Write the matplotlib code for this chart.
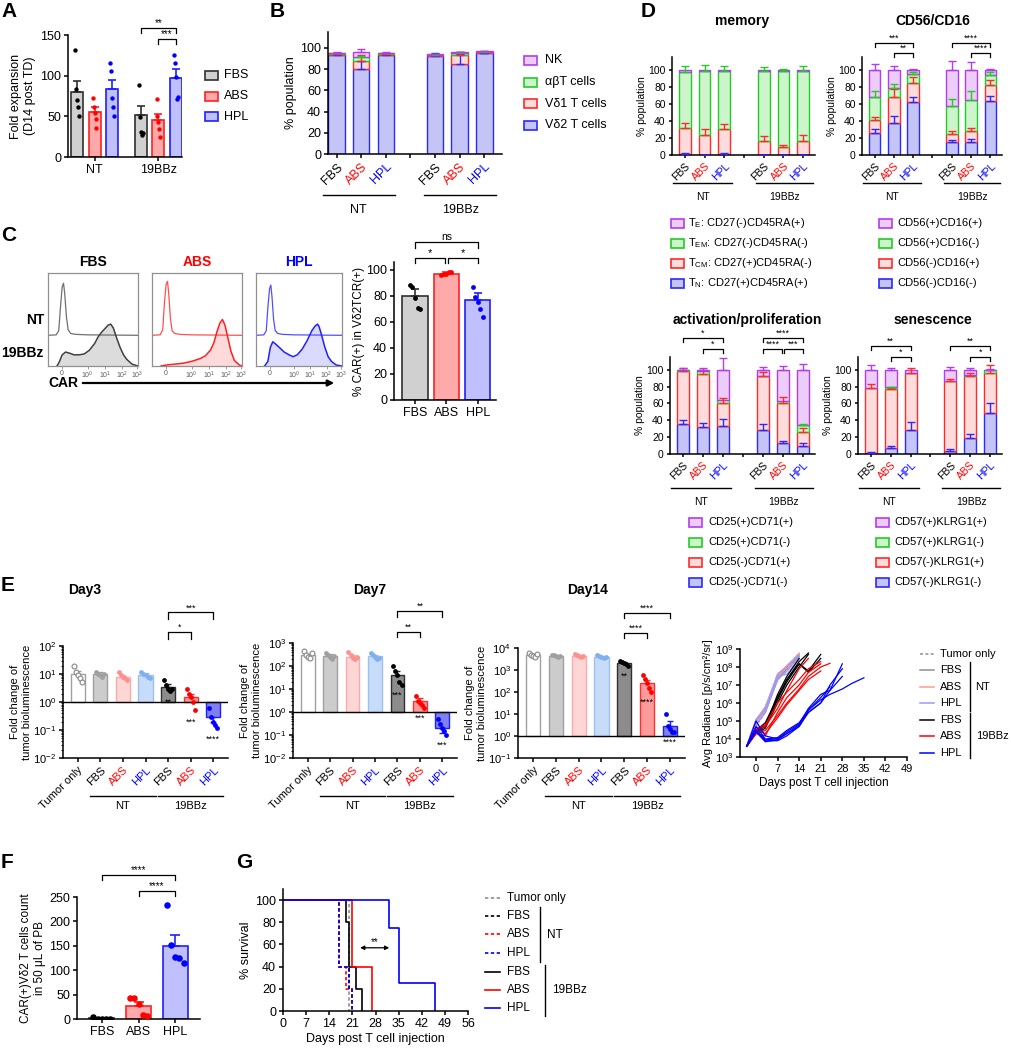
import numpy as np
import matplotlib
matplotlib.use("Agg")
import matplotlib.pyplot as plt
import matplotlib.transforms as mtrans
from matplotlib.patches import Rectangle
from matplotlib.lines import Line2D

plt.rcParams['font.family'] = ['Liberation Sans', 'DejaVu Sans']
plt.rcParams['mathtext.fontset'] = 'custom'
plt.rcParams['mathtext.rm'] = 'Liberation Sans'
plt.rcParams['mathtext.bf'] = 'Liberation Sans:bold'
plt.rcParams['axes.linewidth'] = 1.1
plt.rcParams['xtick.major.width'] = 1.1
plt.rcParams['ytick.major.width'] = 1.1
plt.rcParams['xtick.major.size'] = 3
plt.rcParams['ytick.major.size'] = 3
plt.rcParams['xtick.major.pad'] = 2
plt.rcParams['ytick.major.pad'] = 2

# ---------------- data ----------------
media = ['FBS', 'ABS', 'HPL']
groups = ['NT', '19BBz']
media_col = ['black', 'red', 'blue']

# A: fold expansion (NT FBS/ABS/HPL, 19BBz FBS/ABS/HPL)
a_mean = [80, 55, 83, 52, 45, 97]
a_sem = [13, 7, 12, 11, 8, 11]
a_pts = [[131, 84, 70, 62, 51], [73, 61, 54, 47, 36], [115, 106, 73, 62, 51],
         [88, 49, 31, 27, 30], [71, 51, 43, 35, 25], [125, 115, 98, 71, 74]]

# B: population composition
b_vd2 = [93, 80, 93, 92, 85, 95]
b_vd1 = [1, 8, 1, 1, 8, 1]
b_ab = [1, 3, 1, 0.5, 2, 0.5]
b_nk = [0.5, 5, 0.5, 0.5, 1, 0.3]
b_vd2_sem = [1, 8, 1, 3, 9, 0.5]
b_vd1_sem = [0.5, 5, 0.5, 0.5, 3, 0.5]
b_ab_sem = [0.5, 1, 0.5, 0.3, 1, 0.3]
b_nk_sem = [1, 3, 1, 0.5, 0.5, 0.3]

# C: CAR histograms (x in display units of the biexponential axis)
hist_ticks = [0, 1.5, 2.5, 3.5, 4.4]
hist_ticklabels = ['0', '10$^0$', '10$^1$', '10$^2$', '10$^3$']
nt_x = [-0.83, -0.35, -0.2, -0.1, 0.0, 0.08, 0.15, 0.25, 0.35, 0.5, 0.8, 1.5, 4.45]
nt_y = [[0, 0.005, 0.05, 0.3, 0.52, 0.56, 0.45, 0.2, 0.06, 0.02, 0.01, 0.005, 0],
        [0, 0.005, 0.06, 0.35, 0.55, 0.58, 0.45, 0.18, 0.05, 0.02, 0.01, 0.005, 0],
        [0, 0.005, 0.05, 0.3, 0.5, 0.54, 0.42, 0.17, 0.05, 0.02, 0.01, 0.005, 0]]
car_x = [[-0.3, -0.15, 0, 0.2, 0.4, 0.7, 1.0, 1.3, 1.6, 1.9, 2.1, 2.3, 2.5, 2.7, 2.85, 3.0, 3.2, 3.4, 3.6, 3.8, 4.1, 4.45],
         [-0.3, 0, 0.5, 1.0, 1.5, 2.0, 2.3, 2.6, 2.8, 3.0, 3.15, 3.3, 3.45, 3.6, 3.8, 4.0, 4.3, 4.45],
         [-0.3, -0.1, 0.05, 0.2, 0.35, 0.6, 0.9, 1.2, 1.45, 1.7, 2.0, 2.3, 2.6, 2.8, 2.95, 3.05, 3.2, 3.4, 3.6, 3.8, 4.1, 4.45]]
car_y = [[0, 0.05, 0.12, 0.15, 0.14, 0.12, 0.12, 0.13, 0.17, 0.24, 0.31, 0.36, 0.40, 0.44, 0.45, 0.41, 0.3, 0.2, 0.12, 0.07, 0.02, 0],
         [0, 0.01, 0.02, 0.03, 0.05, 0.08, 0.11, 0.17, 0.25, 0.38, 0.46, 0.5, 0.44, 0.32, 0.16, 0.06, 0.01, 0],
         [0, 0.05, 0.2, 0.26, 0.24, 0.2, 0.15, 0.12, 0.10, 0.12, 0.18, 0.27, 0.38, 0.43, 0.45, 0.42, 0.33, 0.2, 0.1, 0.05, 0.01, 0]]
c_mean = [80, 97, 77]
c_sem = [5, 1, 5]
c_pts = [[88, 87, 78, 71, 70], [96, 97, 97, 98, 98], [87, 79, 75, 70, 64]]

# D: phenotypes, layers bottom -> top
mem_tn = [1, 0, 1, 0, 0, 0]
mem_tcm = [31, 24, 29, 16, 9, 17]
mem_tem = [65, 75, 69, 82, 90, 82]
mem_te = [3, 1, 1, 2, 1, 1]
mem_sems = [[1.5, 0.3, 1, 0.3, 0.3, 0.3], [6, 7, 6, 6, 3, 6], [7, 7, 5, 5, 2, 5], [0, 0, 0, 0, 0, 0]]

cd_nn = [26, 37, 62, 15, 15, 63]
cd_np = [15, 31, 23, 10, 13, 19]
cd_pn = [27, 11, 10, 32, 37, 12]
cd_pp = [32, 21, 5, 43, 35, 6]
cd_sems = [[5, 9, 6, 3, 4, 6], [4, 9, 7, 3, 4, 6], [7, 4, 2, 9, 10, 3], [7, 4, 1, 10, 9, 1]]

act_nn = [35, 32, 33, 28, 13, 10]
act_np = [63, 63, 28, 64, 48, 16]
act_pn = [1, 3, 3, 0, 2, 8]
act_pp = [1, 2, 36, 8, 37, 66]
act_sems = [[5, 5, 9, 7, 3, 3], [4, 4, 5, 5, 6, 5], [0, 0, 0, 0, 0, 2], [2, 2, 14, 3, 4, 7]]

sen_nn = [1, 7, 29, 4, 19, 49]
sen_np = [77, 70, 67, 82, 73, 47]
sen_pn = [0, 2, 0, 1, 2, 3]
sen_pp = [22, 21, 4, 13, 6, 1]
sen_sems = [[1, 2, 9, 2, 5, 11], [5, 1, 6, 3, 4, 10], [0, 1, 0, 0, 0, 0], [5, 2, 0, 3, 2, 1]]

# E: fold change of tumor bioluminescence
e_labels = ['Tumor only', 'FBS', 'ABS', 'HPL', 'FBS', 'ABS', 'HPL']
e_lab_col = ['black', 'black', 'red', 'blue', 'black', 'red', 'blue']
d3_mean = [10, 10, 8, 9, 3.5, 1.5, 0.3]
d3_sem = [3, 1.5, 1.5, 1.5, 1, 0.5, 0.1]
d3_pts = [[20, 12, 9, 7, 5], [12, 10, 9, 8, 10], [12, 9, 8, 7, 6], [12, 10, 9, 8, 7],
          [6, 4, 3, 2.5, 3], [3, 2, 1.5, 1, 0.5], [0.6, 0.3, 0.2, 0.15, 0.12]]
d3_stars = ['', '', '', '', '**', '***', '****']
d7_mean = [300, 280, 250, 270, 40, 3, 0.2]
d7_sem = [40, 40, 40, 40, 20, 1, 0.08]
d7_pts = [[450, 300, 250, 220, 350], [350, 300, 250, 200, 280], [400, 300, 230, 200, 250],
          [350, 300, 250, 200, 220], [100, 60, 40, 20, 15], [5, 3, 2.5, 2, 1.5],
          [0.5, 0.3, 0.2, 0.15, 0.1]]
d7_stars = ['', '', '', '', '***', '***', '***']
d14_mean = [5000, 4500, 4500, 4000, 2000, 250, 3]
d14_sem = [500, 400, 500, 500, 300, 100, 2]
d14_pts = [[6000, 5000, 4500, 4000, 5500], [5000, 4800, 4500, 4000, 4300],
           [5500, 5000, 4500, 4000, 4200], [5000, 4500, 4000, 3500, 3800],
           [2500, 2200, 2000, 1800, 1500], [600, 400, 250, 150, 100], [10, 3, 2, 1.5, 1.5]]
d14_stars = ['', '', '', '', '**', '****', '****']

# E: radiance per mouse (values follow rad_days until the mouse left the study)
rad_days = [-3, 0, 3, 7, 10, 14, 17, 21, 24, 28, 31, 35]
rad_tumor = [[4e3, 1e5, 4e5, 3e7, 8e7, 5e8], [4e3, 5e4, 3e5, 2e7, 6e7, 4e8], [4e3, 8e4, 5e5, 4e7, 1e8, 6e8]]
rad_fbs_nt = [[4e3, 9e4, 5e5, 3e7, 1.2e8, 5e8], [4e3, 1.1e5, 6e5, 2.5e7, 1e8, 3e8], [4e3, 6e4, 3e5, 2e7, 8e7, 4e8]]
rad_abs_nt = [[4e3, 1.2e5, 6e5, 4e7, 1.2e8, 5e8], [4e3, 7e4, 4e5, 3e7, 9e7, 3e8], [4e3, 1e5, 5e5, 3.5e7, 1e8, 6e8]]
rad_hpl_nt = [[4e3, 1e5, 5e5, 3e7, 4e7, 3e8], [4e3, 6e4, 3e5, 2e7, 6e7, 4e8], [4e3, 1.2e5, 4e5, 4e7, 1e8, 5e8]]
rad_fbs_car = [[4e3, 3e4, 6e4, 2e6, 2e7, 2e8, 6e8], [4e3, 2e4, 4e4, 1e6, 1e7, 1e8, 5e8],
               [4e3, 3e4, 5e4, 1.5e6, 1.5e7, 1.5e8, 6e7, 5e8], [4e3, 2.5e4, 5e4, 3e6, 3e7, 3e8],
               [4e3, 3e4, 8e4, 2e6, 2e7, 1.5e8, 5e7, 3e8]]
rad_abs_car = [[4e3, 3e4, 5e4, 5e5, 5e6, 8e7, 3e8], [4e3, 2e4, 3e4, 2e5, 1e6, 6e6, 3e7, 1e8, 1.6e8],
               [4e3, 3e4, 2e4, 1.5e5, 8e5, 5e6, 2e7, 6e7], [4e3, 4e4, 6e4, 1e6, 4e6, 2e7, 8e7, 2e8],
               [4e3, 2e4, 1.5e4, 3e5, 2e6, 1e7, 5e7, 1.5e8]]
rad_hpl_car = [[4e3, 1e5, 1.5e4, 1e4, 2e4, 5e4, 3e5, 1e6, 5e6, 1.5e8],
               [4e3, 3e4, 8e3, 8e3, 1.5e4, 5e4, 4e5, 1.5e6, 3e6, 6e6, 1.2e7, 2.5e7],
               [4e3, 2.5e4, 7e3, 9e3, 2e4, 6e4, 3e5, 1e6, 1e7, 8e7],
               [4e3, 5e4, 1e4, 1.2e4, 3e4, 8e4, 4e5, 2e6, 8e6],
               [4e3, 3e4, 9e3, 1e4, 2.5e4, 7e4, 5e5, 3e6, 5e6, 3e7]]

# F: CAR+ Vd2 T cells in blood
f_mean = [2, 26, 150]
f_sem = [1, 8, 22]
f_pts = [[5, 1, 1, 1, 1], [43, 43, 31, 8, 7], [234, 152, 127, 125, 115]]

# G: survival (event days, % survival)
surv_t = {'tumor': [0, 20], 'fbs_nt': [0, 17, 20, 21], 'abs_nt': [0, 17, 19, 21], 'hpl_nt': [0, 17, 20, 21],
          'fbs_car': [0, 19, 20, 22, 24], 'abs_car': [0, 21, 27], 'hpl_car': [0, 32, 35, 46]}
surv_s = {'tumor': [100, 0], 'fbs_nt': [100, 40, 20, 0], 'abs_nt': [100, 40, 20, 0], 'hpl_nt': [100, 40, 20, 0],
          'fbs_car': [100, 80, 40, 20, 0], 'abs_car': [100, 40, 0], 'hpl_car': [100, 75, 25, 0]}

# ---------------- styles ----------------
W, H = 1011, 1050
fig = plt.figure(figsize=(W / 100, H / 100), dpi=100)

bar_face = ['#d0d0d0', '#ffaaaa', '#c0c0ff']
bar_edge = ['#303030', '#ff2020', '#2020ff']
lay_face = ['#c4c4f6', '#ffdcdc', '#ccf5cc', '#ecccf8']
lay_edge = ['#2a2aff', '#ff2a2a', '#22cc22', '#b43cf0']
e_face = ['white', '#cccccc', '#ffd6d6', '#c6dcf8', '#8c8c8c', '#ff9a9a', '#8080f0']
e_edge = ['#a0a0a0', '#a0a0a0', '#ffaaaa', '#9ec0f0', '#303030', '#ff3030', '#2020ff']
e_dot = ['#909090', '#a0a0a0', '#ff9090', '#7fb0f0', '#000000', '#ff0000', '#0000ff']
jit = [-0.18, -0.09, 0.0, 0.09, 0.18]


def add_ax(l, t, r, b):
    ax = fig.add_axes([l / W, 1 - b / H, (r - l) / W, (b - t) / H])
    ax.spines['top'].set_visible(False)
    ax.spines['right'].set_visible(False)
    return ax


def ftext(x, y, s, **kw):
    fig.text(x / W, 1 - y / H, s, **kw)


def fline(x0, y0, x1, y1, **kw):
    fig.add_artist(Line2D([x0 / W, x1 / W], [1 - y0 / H, 1 - y1 / H], transform=fig.transFigure, **kw))


def fpatch(x, y, fc, ec, w=13, h=9):
    fig.add_artist(Rectangle((x / W, 1 - (y + h / 2) / H), w / W, h / H, transform=fig.transFigure,
                             facecolor=fc, edgecolor=ec, lw=1.2))


def group_lines(ax, spans, labels, dy_line, dy_text, fs):
    h = ax.get_position().height * H
    tr = mtrans.blended_transform_factory(ax.transData, ax.transAxes)
    for (x0, x1), lab in zip(spans, labels):
        ax.plot([x0, x1], [-dy_line / h] * 2, color='k', lw=1.0, transform=tr, clip_on=False)
        ax.text((x0 + x1) / 2, -dy_text / h, lab, transform=tr, ha='center', va='center', fontsize=fs)


def sig(ax, x0, x1, y, ylo, txt, fs=7):
    ax.plot([x0, x0, x1, x1], [ylo, y, y, ylo], color='k', lw=0.9, clip_on=False)
    ax.text((x0 + x1) / 2, y, txt, ha='center', va='bottom', fontsize=fs, clip_on=False)


def rot_labels(ax, ticks, labels, colors, fs):
    ax.set_xticks(ticks)
    ax.set_xticklabels(labels, rotation=45, ha='right', va='top', rotation_mode='anchor', fontsize=fs)
    for t, c in zip(ax.get_xticklabels(), colors):
        t.set_color(c)


def stacked(ax, layers, sems, pos, width):
    bottom = np.zeros(len(pos))
    for vals, se, fc, ec in zip(layers, sems, lay_face, lay_edge):
        vals = np.array(vals, float)
        ax.bar(pos, vals, width, bottom=bottom, color=fc, edgecolor=ec, lw=1.0, zorder=2)
        top = bottom + vals
        se = np.array(se, float)
        m = se > 0
        ax.errorbar(np.array(pos)[m], top[m], yerr=[np.zeros(m.sum()), se[m]], fmt='none',
                    ecolor=ec, elinewidth=1.0, capsize=3, capthick=1.0, zorder=3)
        bottom = top


cat_pos = [0, 1, 2, 4, 5, 6]
cat_labels = ['FBS', 'ABS', 'HPL', '', 'FBS', 'ABS', 'HPL']
cat_cols = ['black', 'red', 'blue', 'black', 'black', 'red', 'blue']

# ---------------- panel labels ----------------
for lab, x, y in [('A', 1, 2), ('B', 270, 2), ('C', 1, 226), ('D', 641, 2), ('E', 1, 576), ('F', 1, 853), ('G', 236, 853)]:
    ftext(x, y, lab, fontsize=15, fontweight='bold', va='top', ha='left')

# ---------------- A ----------------
ax = add_ax(68, 35, 182, 157)
a_pos = [0, 1, 2, 3.65, 4.65, 5.65]
for i, p in enumerate(a_pos):
    k = i % 3
    ax.bar(p, a_mean[i], 0.68, color=bar_face[k], edgecolor=bar_edge[k], lw=1.2, zorder=2)
    ax.errorbar(p, a_mean[i], yerr=[[0], [a_sem[i]]], fmt='none', ecolor=bar_edge[k], elinewidth=1.2,
                capsize=3, capthick=1.2, zorder=3)
    ax.scatter(p + np.array(jit) * 0.6, a_pts[i], s=10, color=media_col[k], zorder=4, lw=0)
ax.set_ylim(0, 150)
ax.set_xlim(-0.52, 6.0)
ax.set_yticks([0, 50, 100, 150])
ax.set_xticks([1, 4.65])
ax.set_xticklabels(groups, fontsize=9)
ax.tick_params(labelsize=9)
ax.set_ylabel('Fold expansion\n(D14 post TD)', fontsize=9, labelpad=3)
sig(ax, 3.65, 5.65, 158, 152, '**')
sig(ax, 4.65, 5.65, 145, 139, '***')
for k, y in enumerate([75, 96, 117]):
    fpatch(205, y, bar_face[k], bar_edge[k])
    ftext(224, y, media[k], fontsize=9, va='center')

# ---------------- B ----------------
ax = add_ax(328, 32, 502, 154)
stacked(ax, [b_vd2, b_vd1, b_ab, b_nk], [b_vd2_sem, b_vd1_sem, b_ab_sem, b_nk_sem], cat_pos, 0.67)
ax.set_ylim(0, 115)
ax.set_xlim(-0.35, 6.72)
ax.set_yticks(range(0, 101, 20))
ax.tick_params(labelsize=9)
rot_labels(ax, range(7), cat_labels, cat_cols, 9)
ax.set_ylabel('% population', fontsize=9, labelpad=2)
group_lines(ax, [(-0.56, 2.36), (3.56, 6.48)], groups, 41, 56, 9)
b_leg = ['NK', 'αβT cells', 'Vδ1 T cells', 'Vδ2 T cells']
for k, y in enumerate([60, 82, 104, 125]):
    fpatch(524, y, lay_face[3 - k], lay_edge[3 - k])
    ftext(545, y, b_leg[k], fontsize=9, va='center')

# ---------------- C histograms ----------------
h_line = ['#707070', '#ff5050', '#5050ff']
h_line2 = ['#404040', '#ff2020', '#2020ff']
h_fill = ['#dcdcdc', '#ffdada', '#dadaff']
for k, (l, r) in enumerate([(48, 138), (152, 242), (256, 342)]):
    ax = fig.add_axes([l / W, 1 - 366 / H, (r - l) / W, 93 / H])
    for s in ax.spines.values():
        s.set_color('#909090')
        s.set_linewidth(0.9)
    ax.set_xlim(-0.83, 4.45)
    ax.set_ylim(0, 1)
    ax.plot(nt_x, np.array(nt_y[k]) + 0.33, color=h_line[k], lw=0.9)
    ax.fill_between(car_x[k], car_y[k], color=h_fill[k], lw=0)
    ax.plot(car_x[k], car_y[k], color=h_line2[k], lw=1.1)
    ax.set_yticks([])
    ax.set_xticks(hist_ticks)
    ax.set_xticklabels(hist_ticklabels, fontsize=5, color='#606060')
    ax.tick_params(axis='x', length=2, width=0.6, color='#909090', pad=1)
    ftext((l + r) / 2, 262, media[k], fontsize=10, fontweight='bold', color=media_col[k], ha='center', va='center')
ftext(44, 320, 'NT', fontsize=10, fontweight='bold', ha='right', va='center')
ftext(44, 353, '19BBz', fontsize=10, fontweight='bold', ha='right', va='center')
ftext(48, 383, 'CAR', fontsize=10, fontweight='bold', ha='left', va='center')
fig.add_artist(matplotlib.patches.FancyArrowPatch((80 / W, 1 - 383 / H), (337 / W, 1 - 383 / H),
                                                  transform=fig.transFigure, arrowstyle='-|>',
                                                  mutation_scale=9, lw=1.6, color='k'))

# ---------------- C bars ----------------
ax = add_ax(394, 262, 496, 400)
for k in range(3):
    ax.bar(k, c_mean[k], 0.8, color=bar_face[k], edgecolor=bar_edge[k], lw=1.2, zorder=2)
    ax.errorbar(k, c_mean[k], yerr=[[0], [c_sem[k]]], fmt='none', ecolor=bar_edge[k], elinewidth=1.2,
                capsize=3, capthick=1.2, zorder=3)
    ax.scatter(k + np.array(jit) * 0.9, c_pts[k], s=12, color=media_col[k], zorder=4, lw=0)
ax.set_ylim(0, 106)
ax.set_xlim(-0.67, 2.58)
ax.set_yticks(range(0, 101, 20))
ax.set_xticks([0, 1, 2])
ax.set_xticklabels(media, fontsize=9)
ax.tick_params(labelsize=9)
ax.set_ylabel('% CAR(+) in Vδ2TCR(+)', fontsize=8.5, labelpad=1)
sig(ax, 0, 2, 121, 117, 'ns', fs=7.5)
sig(ax, 0, 0.95, 109, 105, '*', fs=8)
sig(ax, 1.05, 2, 109, 105, '*', fs=8)

# ---------------- D ----------------
d_panels = [((672, 57, 815, 155), [mem_tn, mem_tcm, mem_tem, mem_te], mem_sems, 'memory', 742, 21),
            ((862, 57, 1002, 155), [cd_nn, cd_np, cd_pn, cd_pp], cd_sems, 'CD56/CD16', 933, 21),
            ((670, 357, 815, 454), [act_nn, act_np, act_pn, act_pp], act_sems, 'activation/proliferation', 747, 320),
            ((858, 357, 1002, 454), [sen_nn, sen_np, sen_pn, sen_pp], sen_sems, 'senescence', 933, 320)]
d_axes = []
for (box, layers, sems, title, tx, ty) in d_panels:
    ax = add_ax(*box)
    stacked(ax, layers, sems, cat_pos, 0.6)
    ax.set_ylim(0, 115)
    ax.set_xlim(-0.65, 6.6)
    ax.set_yticks(range(0, 101, 20))
    ax.tick_params(labelsize=7.5, length=2.5)
    rot_labels(ax, range(7), cat_labels, cat_cols, 7.5)
    ax.set_ylabel('% population', fontsize=7.5, labelpad=1)
    dy = 28 if box[1] < 200 else 34
    group_lines(ax, [(-0.6, 2.4), (3.6, 6.5)], groups, dy, dy + 14, 7.5)
    ftext(tx, ty, title, fontsize=10, fontweight='bold', ha='center', va='center')
    d_axes.append(ax)

sig(d_axes[1], 0, 2, 132, 127, '***', fs=6.5)
sig(d_axes[1], 1, 2, 120, 115, '**', fs=6.5)
sig(d_axes[1], 4, 6, 132, 127, '****', fs=6.5)
sig(d_axes[1], 5, 6, 120, 115, '****', fs=6.5)
sig(d_axes[2], 0, 2, 138, 133, '*', fs=6.5)
sig(d_axes[2], 1, 2, 125, 120, '*', fs=6.5)
sig(d_axes[2], 4, 6, 138, 133, '****', fs=6.5)
sig(d_axes[2], 4, 4.95, 125, 120, '****', fs=6.5)
sig(d_axes[2], 5.05, 6, 125, 120, '***', fs=6.5)
sig(d_axes[3], 0, 2, 128, 123, '**', fs=6.5)
sig(d_axes[3], 1, 2, 115, 110, '*', fs=6.5)
sig(d_axes[3], 4, 6, 128, 123, '**', fs=6.5)
sig(d_axes[3], 5, 6, 115, 110, '*', fs=6.5)

leg_mem = ['T$_{\\rm E}$: CD27(-)CD45RA(+)', 'T$_{\\rm EM}$: CD27(-)CD45RA(-)',
           'T$_{\\rm CM}$: CD27(+)CD45RA(-)', 'T$_{\\rm N}$: CD27(+)CD45RA(+)']
leg_cd = ['CD56(+)CD16(+)', 'CD56(+)CD16(-)', 'CD56(-)CD16(+)', 'CD56(-)CD16(-)']
leg_act = ['CD25(+)CD71(+)', 'CD25(+)CD71(-)', 'CD25(-)CD71(+)', 'CD25(-)CD71(-)']
leg_sen = ['CD57(+)KLRG1(+)', 'CD57(+)KLRG1(-)', 'CD57(-)KLRG1(+)', 'CD57(-)KLRG1(-)']
for labels, px, tx, ys in [(leg_mem, 671, 688, [223, 243, 263, 283]), (leg_cd, 879, 897, [223, 243, 263, 283]),
                           (leg_act, 689, 708, [522, 542, 562, 582]), (leg_sen, 876, 894, [522, 542, 562, 582])]:
    for k, y in enumerate(ys):
        fpatch(px, y, lay_face[3 - k], lay_edge[3 - k])
        ftext(tx, y, labels[k], fontsize=8, va='center')

# ---------------- E bars ----------------
def e_panel(box, means, sems, pts, stars, ylo, yhi, brackets):
    ax = add_ax(*box)
    ax.set_yscale('log')
    for i in range(7):
        ax.bar(i, means[i] - 1, bottom=1, width=0.62, color=e_face[i], edgecolor=e_edge[i], lw=1.0, zorder=2)
        if means[i] >= 1:
            yerr = [[0], [sems[i]]]
        else:
            yerr = [[sems[i]], [0]]
        ax.errorbar(i, means[i], yerr=yerr, fmt='none', ecolor=e_edge[i], elinewidth=1.0, capsize=2.5, zorder=3)
        if i == 0:
            ax.scatter(i + np.array(jit), pts[i], s=12, facecolor='white', edgecolor=e_dot[i], lw=0.9, zorder=4)
        else:
            ax.scatter(i + np.array(jit), pts[i], s=12, color=e_dot[i], lw=0, zorder=4)
        if stars[i]:
            ax.text(i, min(pts[i]) * 0.55, stars[i], ha='center', va='top', fontsize=6.5)
    ax.axhline(1, color='k', lw=1.0, zorder=3)
    ax.set_ylim(ylo, yhi)
    ax.set_xlim(-0.65, 6.65)
    dec = range(int(round(np.log10(ylo))), int(round(np.log10(yhi))) + 1)
    ax.set_yticks([10.0 ** d for d in dec])
    ax.set_yticklabels(['10$^{%d}$' % d for d in dec], fontsize=8)
    ax.tick_params(axis='y', which='minor', length=1.5, width=0.6)
    rot_labels(ax, range(7), e_labels, e_lab_col, 8)
    ax.set_ylabel('Fold change of\ntumor bioluminescence', fontsize=8, labelpad=1)
    group_lines(ax, [(0.55, 3.45), (3.55, 6.45)], groups, 38, 48, 8)
    for (x0, x1, y, ylo_b, txt) in brackets:
        sig(ax, x0, x1, y, ylo_b, txt, fs=6.5)
    return ax


e_panel((63, 646, 228, 758), d3_mean, d3_sem, d3_pts, d3_stars, 1e-2, 1e2,
        [(4, 6, 10 ** 3.2, 10 ** 2.95, '***'), (4, 5, 10 ** 2.5, 10 ** 2.25, '*')])
e_panel((293, 643, 457, 758), d7_mean, d7_sem, d7_pts, d7_stars, 1e-2, 1e3,
        [(4, 6, 10 ** 4.4, 10 ** 4.15, '**'), (4, 5, 10 ** 3.5, 10 ** 3.25, '**')])
e_panel((518, 648, 685, 758), d14_mean, d14_sem, d14_pts, d14_stars, 1e-1, 1e4,
        [(4, 6, 10 ** 5.6, 10 ** 5.35, '****'), (4, 5, 10 ** 4.7, 10 ** 4.45, '****')])
ftext(85, 590, 'Day3', fontsize=10, fontweight='bold', ha='center', va='center')
ftext(370, 590, 'Day7', fontsize=10, fontweight='bold', ha='center', va='center')
ftext(588, 590, 'Day14', fontsize=10, fontweight='bold', ha='center', va='center')

# ---------------- E radiance ----------------
ax = add_ax(740, 649, 907, 757)
ax.set_yscale('log')
rad_groups = [(rad_tumor, '#909090', (0, (2, 1.5))), (rad_fbs_nt, '#909090', '-'), (rad_abs_nt, '#ff9a9a', '-'),
              (rad_hpl_nt, '#9a9aff', '-'), (rad_fbs_car, 'black', '-'), (rad_abs_car, 'red', '-'),
              (rad_hpl_car, 'blue', '-')]
for mice, col, ls in rad_groups:
    for vals in mice:
        ax.plot(rad_days[:len(vals)], vals, color=col, ls=ls, lw=0.9)
ax.set_ylim(1e3, 1e9)
ax.set_xlim(-5.2, 49)
ax.set_xticks(range(0, 50, 7))
ax.set_yticks([10.0 ** d for d in range(3, 10)])
ax.set_yticklabels(['10$^{%d}$' % d for d in range(3, 10)], fontsize=8)
ax.tick_params(labelsize=8)
ax.tick_params(axis='y', which='minor', length=1.5, width=0.6)
ax.set_xlabel('Days post T cell injection', fontsize=8.5, labelpad=2)
ax.set_ylabel('Avg Radiance [p/s/cm²/sr]', fontsize=8, labelpad=1)

leg_labels = ['Tumor only', 'FBS', 'ABS', 'HPL', 'FBS', 'ABS', 'HPL']
for (mice, col, ls), lab, y in zip(rad_groups, leg_labels, [654, 670, 687, 703, 720, 736, 753]):
    fline(920, y, 934, y, color=col, ls=ls, lw=1.1)
    ftext(940, y, lab, fontsize=8, va='center')
fline(970, 662, 970, 711, color='k', lw=1.0)
ftext(975, 687, 'NT', fontsize=8, va='center')
fline(970, 713, 970, 758, color='k', lw=1.0)
ftext(976, 736, '19BBz', fontsize=8, va='center')

# ---------------- F ----------------
ax = add_ax(77, 897, 200, 1019)
for k in range(3):
    ax.bar(k, f_mean[k], 0.68, color=bar_face[k], edgecolor=bar_edge[k], lw=1.2, zorder=2)
    ax.errorbar(k, f_mean[k], yerr=[[0], [f_sem[k]]], fmt='none', ecolor=bar_edge[k], elinewidth=1.2,
                capsize=3.5, capthick=1.2, zorder=3)
    ax.scatter(k + np.array(jit) * 1.3, f_pts[k], s=22, color=media_col[k], zorder=4, lw=0)
ax.set_ylim(0, 250)
ax.set_xlim(-0.68, 2.68)
ax.set_yticks(range(0, 251, 50))
ax.set_xticks([0, 1, 2])
ax.set_xticklabels(media, fontsize=9)
ax.tick_params(labelsize=9)
ax.set_ylabel('CAR(+)Vδ2 T cells count\nin 50 μL of PB', fontsize=8.5, labelpad=2)
sig(ax, 0, 2, 295, 285, '****', fs=7)
sig(ax, 1, 2, 262, 252, '****', fs=7)

# ---------------- G ----------------
ax = add_ax(283, 889, 468, 1011)
surv_style = [('tumor', '#909090', (0, (2, 1.5))), ('fbs_nt', 'black', (0, (2, 1.5))),
              ('abs_nt', 'red', (0, (2, 1.5))), ('hpl_nt', 'blue', (0, (2, 1.5))),
              ('fbs_car', 'black', '-'), ('abs_car', 'red', '-'), ('hpl_car', 'blue', '-')]
for key, col, ls in surv_style:
    ax.plot(surv_t[key], surv_s[key], drawstyle='steps-post', color=col, ls=ls, lw=1.2)
ax.set_xlim(0, 56)
ax.set_ylim(0, 110)
ax.set_xticks(range(0, 57, 7))
ax.set_yticks(range(0, 101, 20))
ax.tick_params(labelsize=9)
ax.set_xlabel('Days post T cell injection', fontsize=9, labelpad=2)
ax.set_ylabel('% survival', fontsize=9, labelpad=2)
ax.annotate('', xy=(33, 57), xytext=(22.5, 57),
            arrowprops=dict(arrowstyle='<|-|>', color='k', lw=0.9, mutation_scale=6))
ax.text(27.7, 58, '**', ha='center', va='bottom', fontsize=7)
for (key, col, ls), lab, y in zip(surv_style, leg_labels, [898, 916, 934, 953, 972, 990, 1008]):
    fline(485, y, 500, y, color=col, ls=ls, lw=1.2)
    ftext(507, y, lab, fontsize=8.5, va='center')
fline(540, 907, 540, 962, color='k', lw=1.0)
ftext(547, 935, 'NT', fontsize=8.5, va='center')
fline(545, 965, 545, 1016, color='k', lw=1.0)
ftext(552, 990, '19BBz', fontsize=8.5, va='center')

fig.savefig('out.png', dpi=100)
